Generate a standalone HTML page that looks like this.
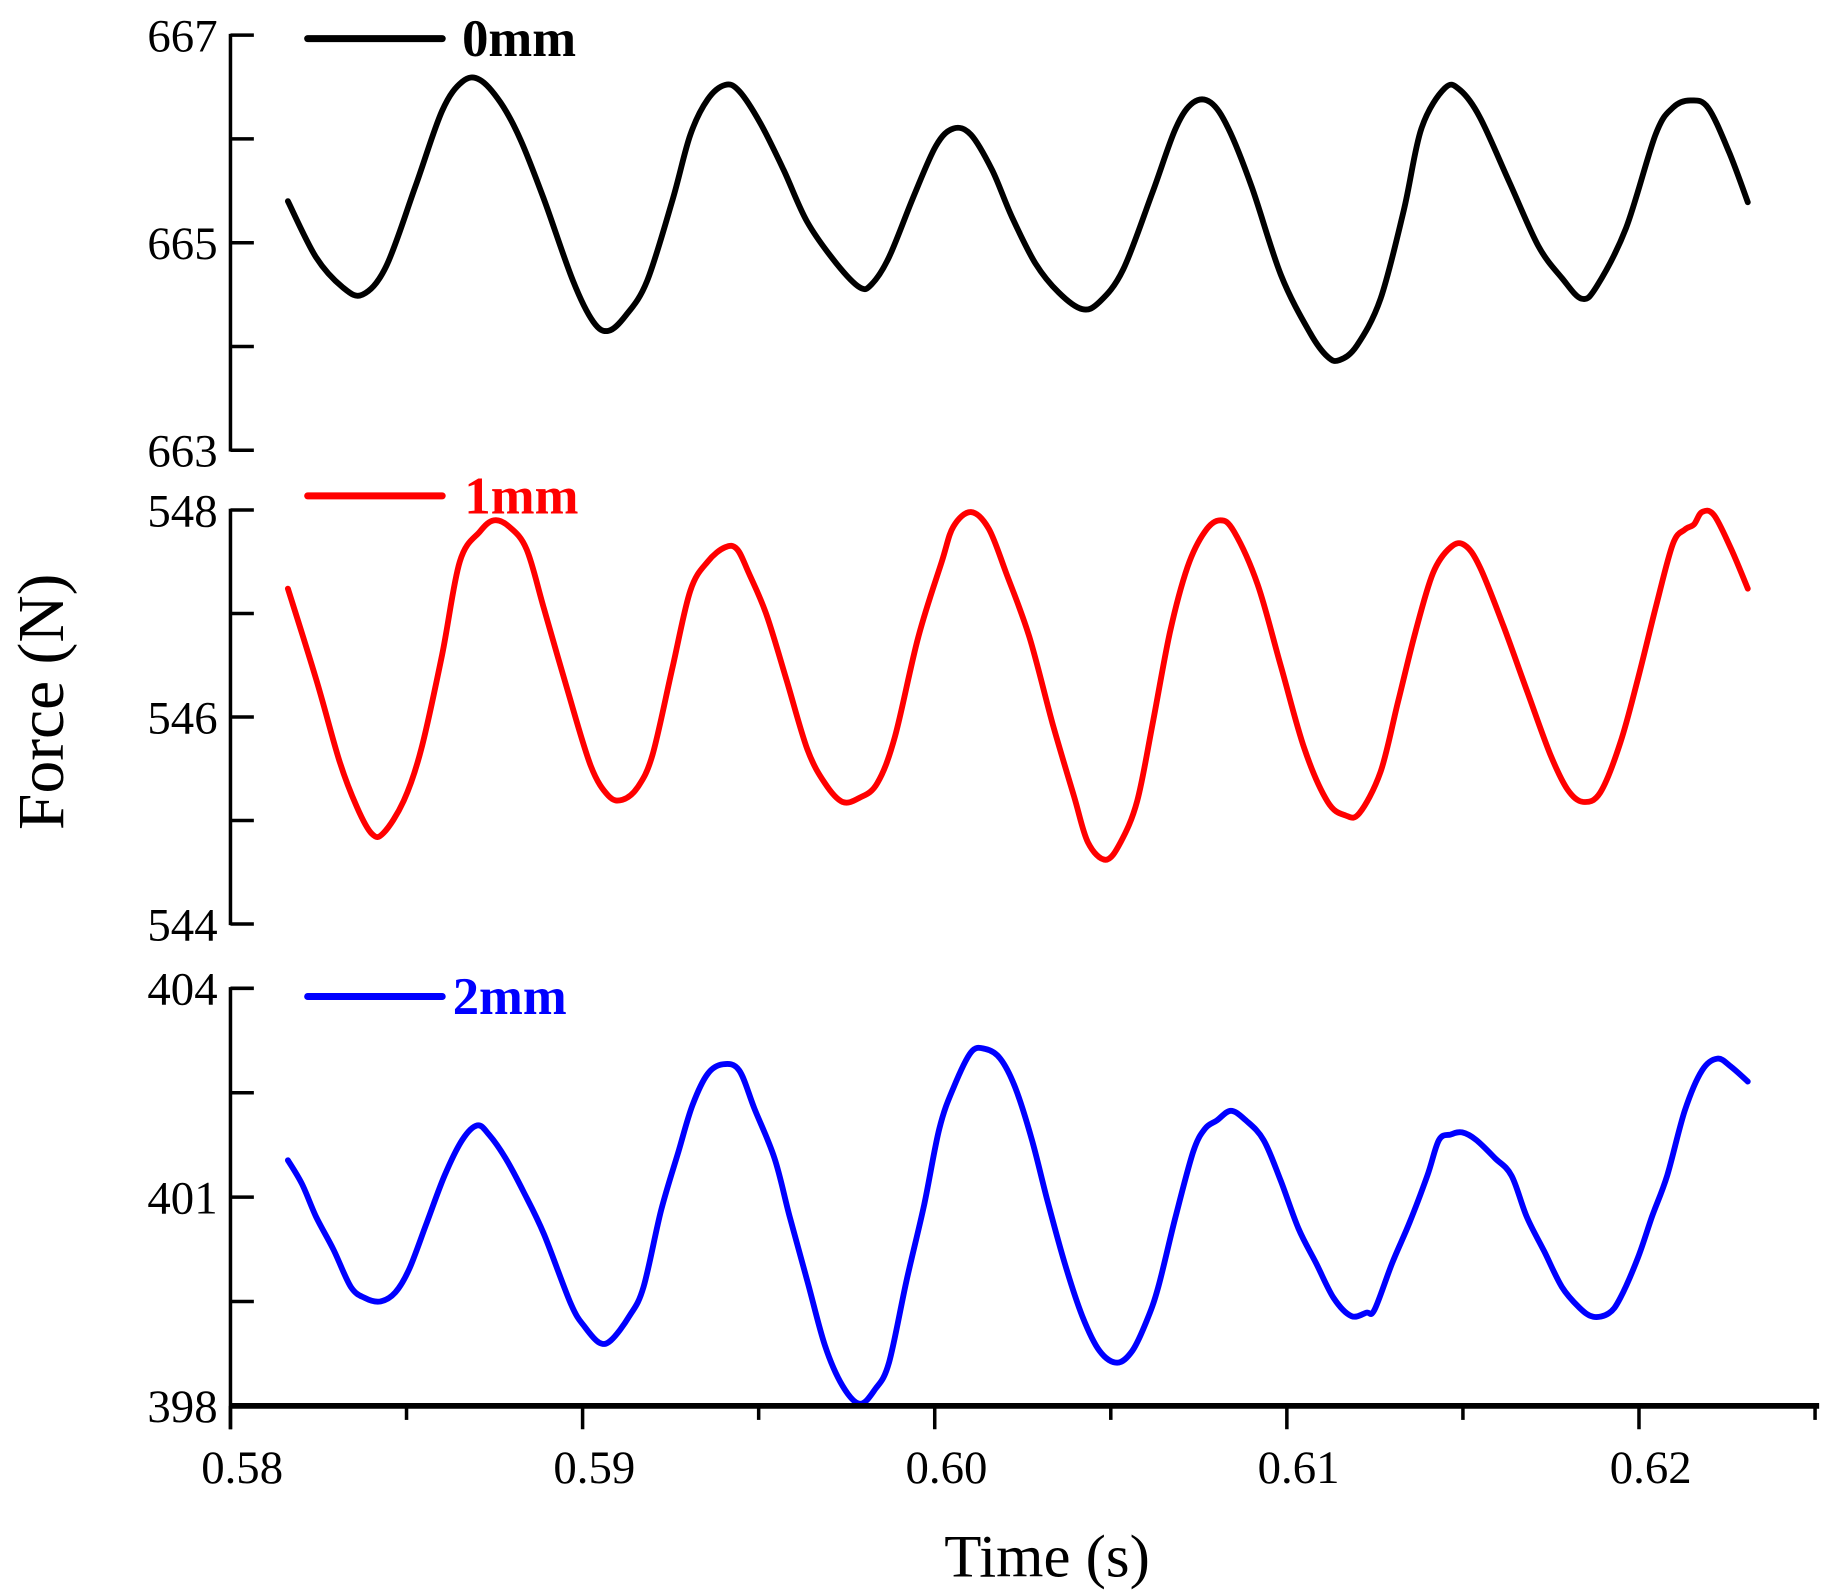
<!DOCTYPE html>
<html><head><meta charset="utf-8"><style>html,body{margin:0;padding:0;background:#fff}svg{display:block}</style></head>
<body>
<svg id="chart" width="1825" height="1593" viewBox="0 0 1560 1362" preserveAspectRatio="none" xmlns="http://www.w3.org/2000/svg" font-family="'Liberation Serif', serif"></svg>
<script>
const xTicks=[0.58,0.59,0.60,0.61,0.62];
const xTickLabels=["0.58","0.59","0.60","0.61","0.62"];
const t0=[0.58163,0.58243,0.58319,0.58375,0.58442,0.58525,0.58601,0.58658,0.58708,0.58767,0.58824,0.58890,0.58973,0.59030,0.59073,0.59123,0.59183,0.59256,0.59306,0.59355,0.59405,0.59445,0.59505,0.59571,0.59638,0.59721,0.59787,0.59821,0.59870,0.59937,0.60003,0.60053,0.60103,0.60163,0.60219,0.60286,0.60352,0.60419,0.60468,0.60535,0.60618,0.60684,0.60734,0.60784,0.60834,0.60900,0.60983,0.61066,0.61116,0.61150,0.61199,0.61266,0.61332,0.61382,0.61449,0.61492,0.61548,0.61631,0.61714,0.61781,0.61837,0.61880,0.61963,0.62047,0.62096,0.62146,0.62196,0.62256,0.62309];
const v0=[665.40,664.86,664.57,664.50,664.77,665.54,666.27,666.55,666.57,666.35,665.99,665.42,664.63,664.24,664.15,664.30,664.63,665.42,666.04,666.38,666.52,666.46,666.15,665.70,665.20,664.80,664.57,664.60,664.86,665.42,665.93,666.10,666.04,665.70,665.25,664.80,664.52,664.36,664.43,664.74,665.48,666.10,666.35,666.35,666.10,665.54,664.69,664.13,663.90,663.87,664.01,664.46,665.31,666.10,666.49,666.47,666.21,665.59,664.97,664.66,664.46,664.58,665.14,666.04,666.30,666.37,666.30,665.87,665.39];
const t1=[0.58163,0.58243,0.58309,0.58359,0.58402,0.58435,0.58492,0.58542,0.58601,0.58651,0.58708,0.58748,0.58791,0.58841,0.58890,0.58957,0.59023,0.59073,0.59113,0.59156,0.59199,0.59256,0.59306,0.59355,0.59405,0.59439,0.59472,0.59522,0.59578,0.59638,0.59688,0.59738,0.59787,0.59837,0.59887,0.59953,0.60020,0.60053,0.60103,0.60153,0.60203,0.60269,0.60336,0.60395,0.60435,0.60485,0.60528,0.60575,0.60618,0.60668,0.60718,0.60767,0.60811,0.60850,0.60917,0.60983,0.61050,0.61116,0.61166,0.61206,0.61266,0.61316,0.61365,0.61415,0.61465,0.61505,0.61548,0.61615,0.61681,0.61748,0.61797,0.61841,0.61890,0.61947,0.61997,0.62047,0.62096,0.62130,0.62156,0.62179,0.62213,0.62262,0.62309];
const v1=[547.24,546.37,545.58,545.13,544.87,544.88,545.19,545.69,546.60,547.50,547.79,547.90,547.84,547.62,547.05,546.26,545.53,545.24,545.20,545.32,545.64,546.49,547.22,547.50,547.64,547.62,547.39,546.99,546.37,545.69,545.36,545.18,545.22,545.36,545.81,546.77,547.50,547.84,547.98,547.82,547.39,546.77,545.92,545.24,544.79,544.62,544.79,545.19,545.92,546.82,547.45,547.79,547.90,547.79,547.28,546.49,545.69,545.18,545.05,545.07,545.47,546.15,546.82,547.39,547.64,547.66,547.45,546.88,546.26,545.64,545.30,545.18,545.27,545.75,546.37,547.05,547.67,547.81,547.86,547.98,547.95,547.62,547.24];
const t2=[0.58163,0.58203,0.58243,0.58292,0.58342,0.58382,0.58425,0.58468,0.58508,0.58558,0.58608,0.58658,0.58701,0.58734,0.58781,0.58834,0.58890,0.58967,0.59007,0.59047,0.59080,0.59133,0.59173,0.59223,0.59272,0.59312,0.59355,0.59399,0.59445,0.59488,0.59545,0.59588,0.59638,0.59688,0.59738,0.59787,0.59831,0.59870,0.59920,0.59970,0.60013,0.60053,0.60103,0.60143,0.60186,0.60229,0.60276,0.60319,0.60369,0.60419,0.60468,0.60518,0.60561,0.60601,0.60635,0.60684,0.60734,0.60767,0.60801,0.60841,0.60884,0.60934,0.60983,0.61033,0.61083,0.61133,0.61183,0.61226,0.61249,0.61299,0.61349,0.61399,0.61432,0.61465,0.61498,0.61538,0.61591,0.61638,0.61681,0.61731,0.61781,0.61831,0.61870,0.61914,0.61947,0.61997,0.62037,0.62080,0.62130,0.62179,0.62223,0.62262,0.62309];
const v2=[401.53,401.19,400.72,400.25,399.71,399.55,399.50,399.63,399.97,400.64,401.31,401.82,402.03,401.90,401.56,401.06,400.47,399.46,399.13,398.91,398.94,399.29,399.71,400.81,401.65,402.32,402.77,402.91,402.82,402.27,401.56,400.72,399.80,398.87,398.29,398.03,398.24,398.62,399.80,400.89,401.98,402.57,403.08,403.13,402.99,402.57,401.82,400.97,400.05,399.29,398.79,398.62,398.79,399.21,399.71,400.72,401.65,401.98,402.10,402.24,402.10,401.82,401.23,400.55,400.05,399.55,399.29,399.34,399.38,400.05,400.64,401.31,401.82,401.90,401.93,401.82,401.56,401.31,400.72,400.22,399.71,399.41,399.28,399.33,399.55,400.13,400.72,401.31,402.24,402.82,402.99,402.87,402.66];
const yTicks0=[663,665,667], yTicks1=[544,546,548], yTicks2=[398,401,404];
const legendLabels=["0mm","1mm","2mm"];
const colors=["#000000","#ff0000","#0000ff"];

const NS="http://www.w3.org/2000/svg";
const svg=document.getElementById('chart');
function mk(tag,attrs,parent){const e=document.createElementNS(NS,tag);for(const k in attrs)e.setAttribute(k,attrs[k]);(parent||svg).appendChild(e);return e;}
const X0=197,X1=1555;
function xs(t){return 197+(t-0.58)*30100;}
function smooth(pts){
  let d='M'+pts[0][0].toFixed(1)+','+pts[0][1].toFixed(1);
  for(let i=0;i<pts.length-1;i++){
    const p0=pts[Math.max(0,i-1)],p1=pts[i],p2=pts[i+1],p3=pts[Math.min(pts.length-1,i+2)];
    const c1x=p1[0]+(p2[0]-p0[0])/6,c1y=p1[1]+(p2[1]-p0[1])/6;
    const c2x=p2[0]-(p3[0]-p1[0])/6,c2y=p2[1]-(p3[1]-p1[1])/6;
    d+='C'+c1x.toFixed(1)+','+c1y.toFixed(1)+' '+c2x.toFixed(1)+','+c2y.toFixed(1)+' '+p2[0].toFixed(1)+','+p2[1].toFixed(1);
  }
  return d;
}
const panels=[
 {t:t0,v:v0,ticks:yTicks0,top:30,bot:385,name:'0mm'},
 {t:t1,v:v1,ticks:yTicks1,top:436,bot:790,name:'1mm'},
 {t:t2,v:v2,ticks:yTicks2,top:845,bot:1202,name:'2mm'}];
const legY=[33,424,852], legTX=[395,397,387];
panels.forEach((p,i)=>{
  const lo=p.ticks[0],hi=p.ticks[p.ticks.length-1];
  const ys=v=>p.bot-(v-lo)/(hi-lo)*(p.bot-p.top);
  const g=mk('g',{});
  
  
  const ax=mk('line',{x1:X0,x2:X0,y1:p.top-1,y2:i==2?1222:p.bot+1,stroke:'#000','stroke-width':3},g);
  
  
  for(let k=0;k<p.ticks.length*2-1;k++){
    const v=lo+(hi-lo)*k/((p.ticks.length-1)*2);
    const y=ys(v);
    const tk=mk('line',{x1:X0,x2:X0+20,y1:y,y2:y,stroke:'#000','stroke-width':3},g);
    
    
  }
  p.ticks.forEach(v=>{
    const tx=mk('text',{x:186,y:ys(v)+14,'text-anchor':'end','font-size':40,fill:'#000'},g);
    tx.textContent=String(v);
    
    
  });
  const pts=p.t.map((t,j)=>[xs(t),ys(p.v[j])]);
  const path=mk('path',{d:smooth(pts),fill:'none',stroke:colors[i],'stroke-width':5,'stroke-linejoin':'round','stroke-linecap':'round'},g);
  
  
  const ll=mk('line',{x1:263,x2:378,y1:legY[i],y2:legY[i],stroke:colors[i],'stroke-width':6,'stroke-linecap':'round'},g);
  
  
  const lt=mk('text',{x:legTX[i],y:legY[i]+15,'font-size':45,'font-weight':'bold',fill:colors[i]},g);
  lt.textContent=legendLabels[i];
  
  
});
const xa=mk('line',{x1:X0,x2:X1,y1:1202,y2:1202,stroke:'#000','stroke-width':5});


for(let k=0;k<=9;k++){
  const t=0.58+k*0.005;
  const x=xs(t);
  const tk=mk('line',{x1:x,x2:x,y1:1202,y2:k%2?1214:1222,stroke:'#000','stroke-width':3});
  
  
}
xTicks.forEach((t,i)=>{
  const tx=mk('text',{x:xs(t)+10,y:1268,'text-anchor':'middle','font-size':40,fill:'#000'});
  tx.textContent=xTickLabels[i];
  
  
});
const xt=mk('text',{x:895,y:1348,'text-anchor':'middle','font-size':52,fill:'#000'});
xt.textContent='Time (s)';


const yt=mk('text',{x:0,y:0,'text-anchor':'middle','font-size':56,fill:'#000',transform:'translate(54,600) rotate(-90)'});
yt.textContent='Force (N)';


</script>
</body></html>
